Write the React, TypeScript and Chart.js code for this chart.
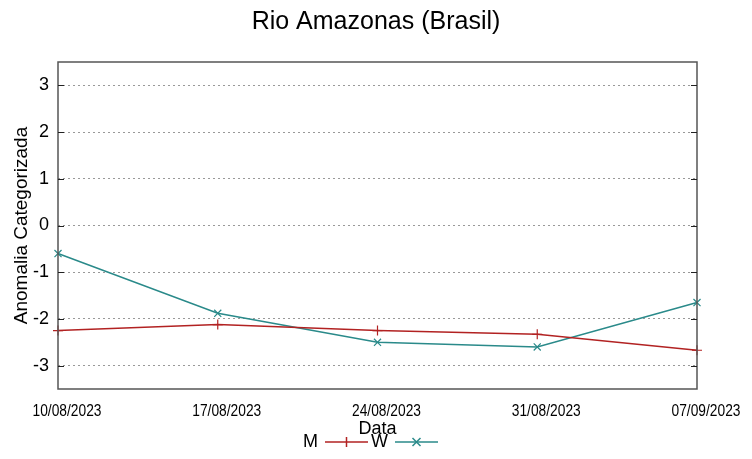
import React, { useEffect, useRef } from "react";
import { Chart, registerables } from "chart.js";

Chart.register(...registerables);

const categories = ["10/08/2023", "17/08/2023", "24/08/2023", "31/08/2023", "07/09/2023"];
const seriesM = [-2.25, -2.12, -2.25, -2.33, -2.67];
const seriesW = [-0.6, -1.88, -2.5, -2.6, -1.65];
const yTicks = [-3, -2, -1, 0, 1, 2, 3];
const titleText = "Rio Amazonas (Brasil)";
const yTitle = "Anomalia Categorizada";
const xTitle = "Data";
const legendNames = ["M", "W"];

const colorM = "#b22222";
const colorW = "#2a8a8a";
const FONT = "'Liberation Sans', Arial, sans-serif";

export default function App() {
  const ref = useRef<HTMLCanvasElement | null>(null);
  useEffect(() => {
    document.body.style.margin = "0";
    const canvas = ref.current!;
    const deco = {
      id: "deco",
      afterDraw(chart: any) {
        const ctx = chart.ctx;
        const a = chart.chartArea;
        const ys = chart.scales.y;
        const xs = chart.scales.x;
        ctx.save();
        // border
        ctx.strokeStyle = "#555";
        ctx.lineWidth = 1.5;
        ctx.setLineDash([]);
        ctx.strokeRect(a.left, a.top, a.right - a.left, a.bottom - a.top);
        // ticks inward both sides
        ctx.lineWidth = 1;
        ctx.strokeStyle = "#222";
        yTicks.forEach((v) => {
          const py = Math.round(ys.getPixelForValue(v)) + 0.5;
          ctx.beginPath();
          ctx.moveTo(a.left, py);
          ctx.lineTo(a.left + 6, py);
          ctx.moveTo(a.right, py);
          ctx.lineTo(a.right - 6, py);
          ctx.stroke();
        });
        ctx.fillStyle = "#000";
        // x tick labels (condensed)
        ctx.font = `16px ${FONT}`;
        ctx.textAlign = "center";
        ctx.textBaseline = "middle";
        categories.forEach((c, i) => {
          const px = xs.getPixelForValue(i) + 9;
          ctx.save();
          ctx.translate(px, 412);
          ctx.scale(0.86, 1);
          ctx.fillText(c, 0, 0);
          ctx.restore();
        });
        // title
        ctx.font = `25px ${FONT}`;
        ctx.fillText(titleText, 376, 22);
        // x title
        ctx.font = `18px ${FONT}`;
        ctx.fillText(xTitle, (a.left + a.right) / 2, 429);
        // y title
        ctx.save();
        ctx.translate(22, (a.top + a.bottom) / 2);
        ctx.rotate(-Math.PI / 2);
        ctx.font = `19px ${FONT}`;
        ctx.fillText(yTitle, 0, 0);
        ctx.restore();
        // legend
        ctx.font = `18px ${FONT}`;
        ctx.textAlign = "right";
        const ly = 442;
        const items = [
          { name: legendNames[0], color: colorM, x: 318, marker: "+" },
          { name: legendNames[1], color: colorW, x: 388, marker: "x" },
        ];
        items.forEach((it) => {
          ctx.fillStyle = "#000";
          ctx.fillText(it.name, it.x, ly);
          const x0 = it.x + 7, x1 = it.x + 50, xm = (x0 + x1) / 2;
          ctx.strokeStyle = it.color;
          ctx.lineWidth = 1.5;
          ctx.beginPath();
          ctx.moveTo(x0, ly);
          ctx.lineTo(x1, ly);
          ctx.stroke();
          ctx.beginPath();
          if (it.marker === "+") {
            ctx.moveTo(xm, ly - 5);
            ctx.lineTo(xm, ly + 5);
          } else {
            ctx.moveTo(xm - 4, ly - 4);
            ctx.lineTo(xm + 4, ly + 4);
            ctx.moveTo(xm - 4, ly + 4);
            ctx.lineTo(xm + 4, ly - 4);
          }
          ctx.stroke();
        });
        ctx.restore();
      },
    };
    const chart = new Chart(canvas, {
      type: "line",
      data: {
        labels: categories,
        datasets: [
          {
            label: legendNames[0],
            data: seriesM,
            borderColor: colorM,
            backgroundColor: colorM,
            borderWidth: 1.5,
            pointStyle: "cross",
            pointRadius: 5,
            pointBorderWidth: 1.2,
            tension: 0,
          },
          {
            label: legendNames[1],
            data: seriesW,
            borderColor: colorW,
            backgroundColor: colorW,
            borderWidth: 1.5,
            pointStyle: "crossRot",
            pointRadius: 5,
            pointBorderWidth: 1.2,
            tension: 0,
          },
        ],
      },
      options: {
        responsive: false,
        animation: false,
        layout: { padding: { top: 62, right: 55, left: 0, bottom: 0 } },
        plugins: { legend: { display: false }, title: { display: false }, tooltip: { enabled: false } },
        scales: {
          x: {
            type: "category",
            offset: false,
            grid: { display: false, drawTicks: false },
            border: { display: false },
            ticks: { display: false, autoSkip: false },
            afterFit(s: any) {
              s.height = 70;
            },
          },
          y: {
            min: -3.5,
            max: 3.5,
            grid: { color: "#999", lineWidth: 1, drawTicks: false },
            border: { display: false, dash: [2, 3] },
            afterBuildTicks(s: any) {
              s.ticks = yTicks.map((v) => ({ value: v }));
            },
            ticks: {
              color: "#000",
              font: { family: FONT, size: 18 },
              padding: 9,
            },
            afterFit(s: any) {
              s.width = 58;
            },
          },
        },
      },
      plugins: [deco],
    } as any);
    return () => chart.destroy();
  }, []);
  return <canvas ref={ref} width={752} height={459} style={{ display: "block", width: 752, height: 459 }} />;
}
